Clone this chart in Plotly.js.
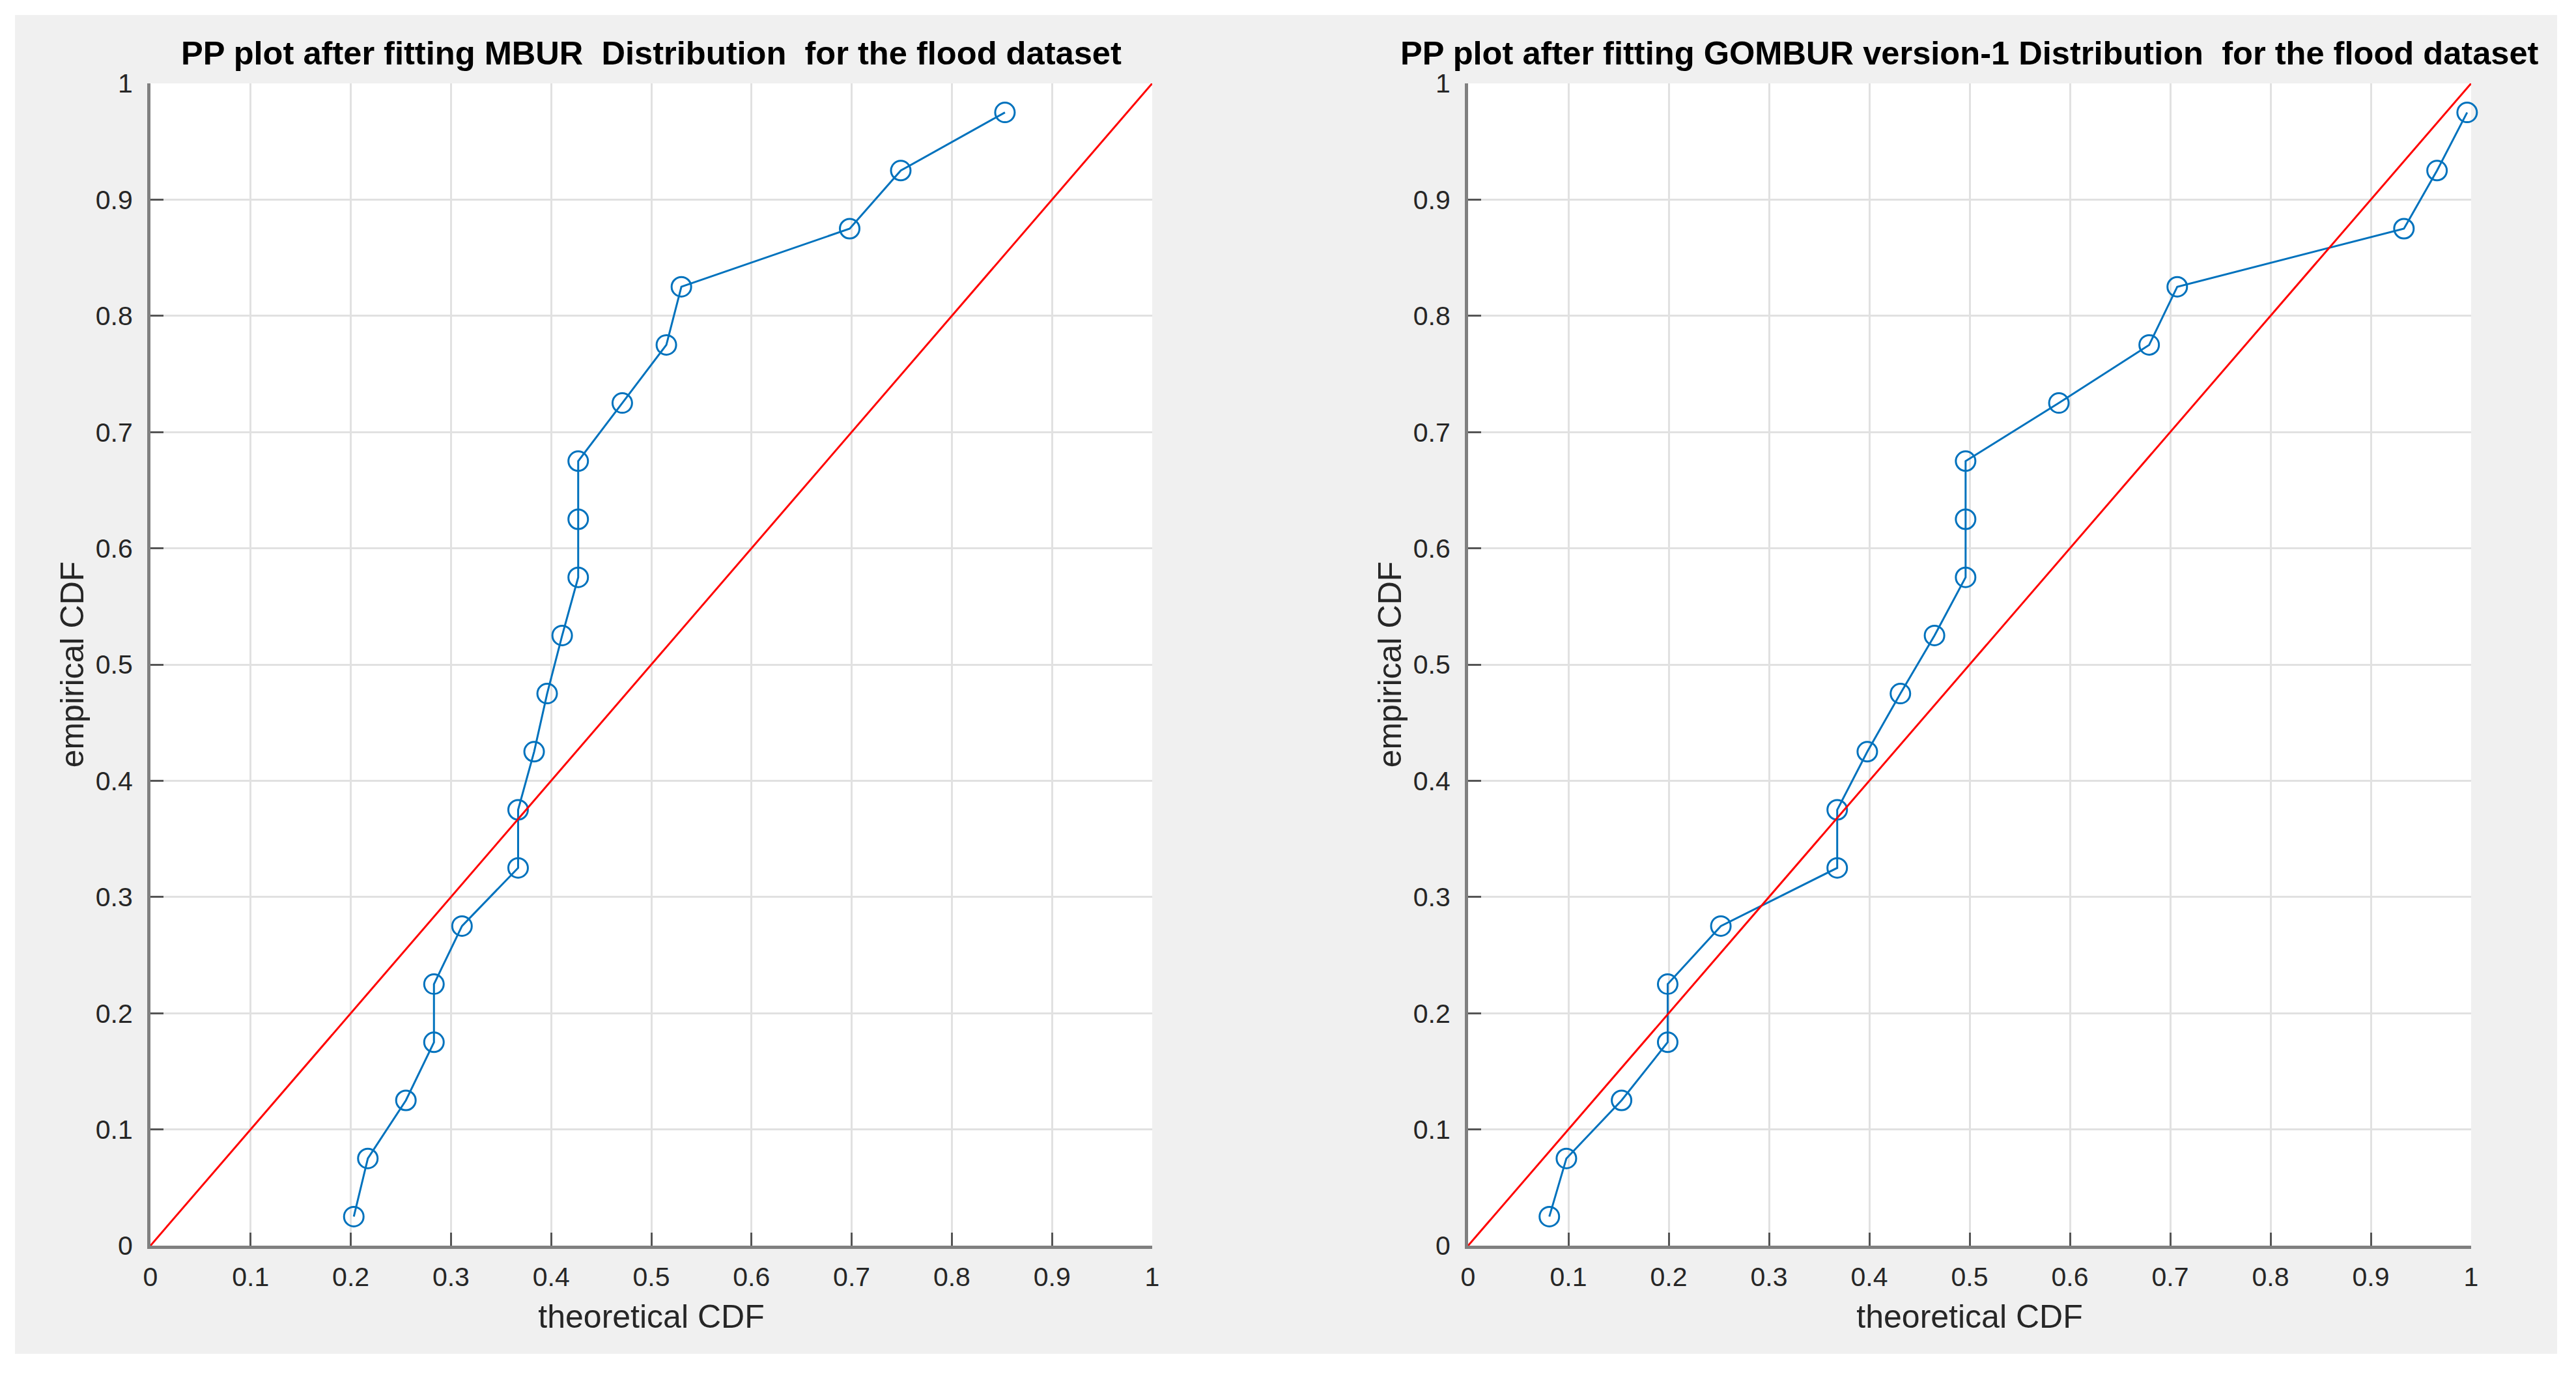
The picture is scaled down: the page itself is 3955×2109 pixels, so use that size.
<!DOCTYPE html>
<html>
<head>
<meta charset="utf-8">
<script src="https://cdn.plot.ly/plotly-3.0.1.min.js"></script>
<style>
  html, body { margin: 0; padding: 0; background: #ffffff; width: 3955px; height: 2109px; overflow: hidden; }
  #chart { position: absolute; left: 23px; top: 23px; width: 3903px; height: 2055px; }
</style>
</head>
<body>
<div id="chart"></div>
<script>
// ---- data ----
const empiricalCDF = [0.025, 0.075, 0.125, 0.175, 0.225, 0.275, 0.325, 0.375, 0.425, 0.475,
                      0.525, 0.575, 0.625, 0.675, 0.725, 0.775, 0.825, 0.875, 0.925, 0.975];
const mburTheoreticalCDF = [0.203, 0.217, 0.255, 0.283, 0.283, 0.311, 0.367, 0.367, 0.383, 0.396,
                            0.411, 0.427, 0.427, 0.427, 0.471, 0.515, 0.530, 0.698, 0.749, 0.853];
const gomburTheoreticalCDF = [0.081, 0.098, 0.153, 0.199, 0.199, 0.252, 0.368, 0.368, 0.398, 0.431,
                              0.465, 0.496, 0.496, 0.496, 0.589, 0.679, 0.707, 0.933, 0.966, 0.996];
const refLineX = [0, 1];
const refLineY = [0, 1];
const tickValues = [0, 0.1, 0.2, 0.3, 0.4, 0.5, 0.6, 0.7, 0.8, 0.9, 1];
const tickLabels = ["0", "0.1", "0.2", "0.3", "0.4", "0.5", "0.6", "0.7", "0.8", "0.9", "1"];
const titleLeft = "PP plot after fitting MBUR\u00a0 Distribution\u00a0 for the flood dataset";
const titleRight = "PP plot after fitting GOMBUR version-1 Distribution\u00a0 for the flood dataset";
const xTitle = "theoretical CDF";
const yTitle = "empirical CDF";

// ---- styling ----
const FONT = "Liberation Sans, Arial, Helvetica, sans-serif";
const BLUE = "#0072BD";
const RED = "#FF0000";

function makeAxis(domain, isX) {
  return {
    domain: domain,
    range: [0, 1],
    tickmode: "array",
    tickvals: tickValues,
    ticktext: tickLabels,
    ticks: "inside",
    ticklen: 20,
    tickwidth: 3,
    tickcolor: "#555555",
    showline: true,
    linecolor: "#808080",
    linewidth: 5,
    mirror: false,
    showgrid: true,
    gridcolor: "#e1e1e1",
    gridwidth: 3,
    zeroline: false,
    tickfont: { family: FONT, size: 41, color: "#262626" },
    ticklabelstandoff: isX ? 8 : 14,
    title: { text: isX ? xTitle : yTitle, font: { family: FONT, size: 50, color: "#262626" }, standoff: isX ? 22 : 4 },
    automargin: false,
    fixedrange: true
  };
}

const traces = [
  { x: mburTheoreticalCDF, y: empiricalCDF, xaxis: "x", yaxis: "y", type: "scatter", mode: "lines+markers",
    line: { color: BLUE, width: 3 },
    marker: { symbol: "circle-open", size: 30, color: BLUE, line: { width: 3, color: BLUE } },
    cliponaxis: false, showlegend: false },
  { x: refLineX, y: refLineY, xaxis: "x", yaxis: "y", type: "scatter", mode: "lines",
    line: { color: RED, width: 3 }, showlegend: false },
  { x: gomburTheoreticalCDF, y: empiricalCDF, xaxis: "x2", yaxis: "y2", type: "scatter", mode: "lines+markers",
    line: { color: BLUE, width: 3 },
    marker: { symbol: "circle-open", size: 30, color: BLUE, line: { width: 3, color: BLUE } },
    cliponaxis: false, showlegend: false },
  { x: refLineX, y: refLineY, xaxis: "x2", yaxis: "y2", type: "scatter", mode: "lines",
    line: { color: RED, width: 3 }, showlegend: false }
];

const leftDomain = [0, 0.43166];
const rightDomain = [0.56778, 1];

const layout = {
  width: 3903,
  height: 2055,
  margin: { l: 208, r: 132, t: 105, b: 166, pad: 0 },
  paper_bgcolor: "#f0f0f0",
  plot_bgcolor: "#ffffff",
  showlegend: false,
  xaxis: Object.assign(makeAxis(leftDomain, true), { anchor: "y" }),
  yaxis: Object.assign(makeAxis([0, 1], false), { anchor: "x" }),
  xaxis2: Object.assign(makeAxis(rightDomain, true), { anchor: "y2" }),
  yaxis2: Object.assign(makeAxis([0, 1], false), { anchor: "x2" }),
  annotations: [
    { text: "<b>" + titleLeft + "</b>", xref: "paper", yref: "paper",
      x: (leftDomain[0] + leftDomain[1]) / 2, y: 1.0258, xanchor: "center", yanchor: "middle",
      showarrow: false, font: { family: FONT, size: 50.6, color: "#000000" } },
    { text: "<b>" + titleRight + "</b>", xref: "paper", yref: "paper",
      x: (rightDomain[0] + rightDomain[1]) / 2, y: 1.0258, xanchor: "center", yanchor: "middle",
      showarrow: false, font: { family: FONT, size: 50.6, color: "#000000" } }
  ]
};

Plotly.newPlot("chart", traces, layout, { staticPlot: true, displayModeBar: false });
</script>
</body>
</html>
